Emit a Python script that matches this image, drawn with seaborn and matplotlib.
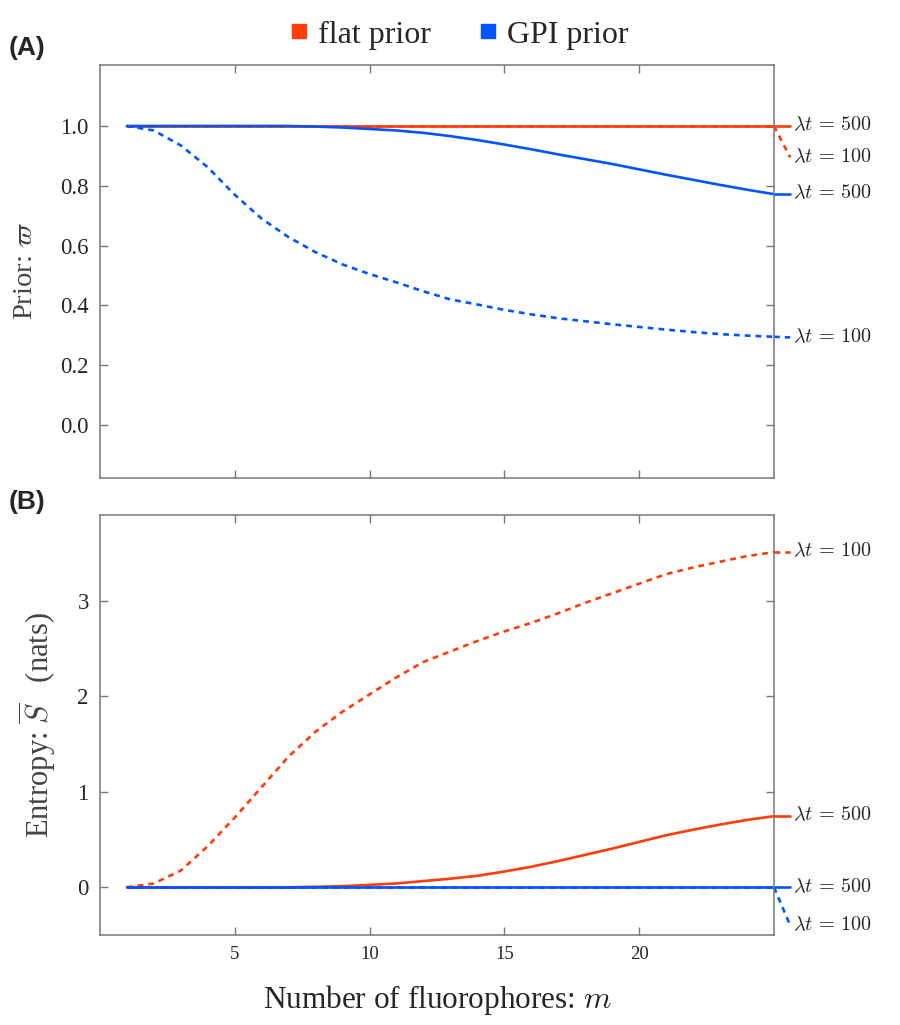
import numpy as np
import pandas as pd
import matplotlib
matplotlib.use('Agg')
import matplotlib.pyplot as plt
from matplotlib.lines import Line2D
import seaborn as sns

m = list(range(1, 26))

# panel A: prior
prior_flat_500 = [1.0] * 25
prior_flat_100 = [1.0] * 25
prior_gpi_500 = [1.0, 1.0, 1.0, 1.0, 1.0, 1.0, 1.0, 0.998, 0.995, 0.99, 0.985, 0.977, 0.966,
                 0.953, 0.938, 0.922, 0.905, 0.889, 0.873, 0.855, 0.837, 0.82, 0.803, 0.787, 0.772]
prior_gpi_100 = [1.0, 0.985, 0.935, 0.862, 0.77, 0.69, 0.628, 0.578, 0.537, 0.505, 0.477, 0.447, 0.42,
                 0.403, 0.385, 0.37, 0.357, 0.347, 0.337, 0.328, 0.319, 0.311, 0.304, 0.299, 0.295]

# panel B: entropy
ent_flat_500 = [0, 0, 0, 0, 0, 0, 0, 0.005, 0.012, 0.025, 0.04, 0.065, 0.09, 0.12, 0.165, 0.215,
                0.275, 0.34, 0.405, 0.475, 0.545, 0.603, 0.657, 0.705, 0.745]
ent_flat_100 = [0, 0.04, 0.175, 0.43, 0.73, 1.05, 1.37, 1.63, 1.84, 2.02, 2.2, 2.36, 2.47, 2.58, 2.68,
                2.77, 2.87, 2.98, 3.08, 3.18, 3.28, 3.35, 3.41, 3.47, 3.51]
ent_gpi_500 = [0.0] * 25
ent_gpi_100 = [0.0] * 25

priors = ['flat prior', 'GPI prior']
palette = {'flat prior': '#ff3c0a', 'GPI prior': '#0055ff'}

# label text y positions (offset so they don't collide)
labels_a = [('flat prior', 500, 1.0), ('flat prior', 100, 0.895),
            ('GPI prior', 500, 0.772), ('GPI prior', 100, 0.293)]
labels_b = [('flat prior', 100, 3.51), ('flat prior', 500, 0.745),
            ('GPI prior', 500, 0.0), ('GPI prior', 100, -0.40)]


def long_df(series):
    rows = []
    for (p, lt), vals in series.items():
        for mi, v in zip(m, vals):
            rows.append({'m': mi, 'value': v, 'prior': p, 'rate': lt})
    return pd.DataFrame(rows)


df_a = long_df({('flat prior', 500): prior_flat_500, ('flat prior', 100): prior_flat_100,
                ('GPI prior', 500): prior_gpi_500, ('GPI prior', 100): prior_gpi_100})
df_b = long_df({('flat prior', 500): ent_flat_500, ('flat prior', 100): ent_flat_100,
                ('GPI prior', 500): ent_gpi_500, ('GPI prior', 100): ent_gpi_100})

sns.set_style('ticks')
plt.rcParams['font.family'] = ['Liberation Serif', 'DejaVu Serif']
plt.rcParams['mathtext.fontset'] = 'cm'

fig = plt.figure(figsize=(9, 10.25), dpi=100)
ax_a = fig.add_axes([0.111, 0.5337, 0.749, 0.4029])
ax_b = fig.add_axes([0.111, 0.0878, 0.749, 0.4098])

dashes = {500: '', 100: (2.2, 1.9)}
for ax, df, labels in [(ax_a, df_a, labels_a), (ax_b, df_b, labels_b)]:
    sns.lineplot(data=df, x='m', y='value', hue='prior', style='rate', hue_order=priors,
                 style_order=[500, 100], dashes=dashes, palette=palette, linewidth=1.9,
                 legend=False, ax=ax)
    for p, lt, ylab in labels:
        sub = df[(df['prior'] == p) & (df['rate'] == lt)]
        y_end = sub['value'].iloc[-1]
        ls = '-' if lt == 500 else (0, (2.2, 1.9))
        ax.plot([25, 25.6], [y_end, ylab], color=palette[p], lw=1.9, ls=ls, clip_on=False)
        ax.text(25.7, ylab, r'$\lambda t\,=\,%d$' % lt, fontsize=14.5, va='center', ha='left')
    ax.set_xlim(0, 25)
    ax.set_xticks([5, 10, 15, 20])
    ax.tick_params(direction='in', length=6, width=1, color='#777777', top=True, right=True,
                   labelsize=16.5, pad=8)
    ax.tick_params(axis='x', labelsize=13.5)
    for s in ax.spines.values():
        s.set_color('#777777')
        s.set_linewidth(1.1)
    ax.set_xlabel('')

ax_a.set_ylim(-0.177, 1.204)
ax_a.set_yticks([0.0, 0.2, 0.4, 0.6, 0.8, 1.0])
ax_a.set_yticklabels(['0.0', '0.2', '0.4', '0.6', '0.8', '1.0'])
ax_a.tick_params(axis='x', labelbottom=False)
ax_a.set_ylabel(r'Prior: $\varpi$', fontsize=20.5, color='#444444', labelpad=16)

ax_b.set_ylim(-0.5, 3.9)
ax_b.set_yticks([0, 1, 2, 3])
ax_b.set_ylabel(r'Entropy: $\overline{S}$   (nats)', fontsize=22, color='#444444', labelpad=14)
ax_b.set_xlabel(r'Number of fluorophores: $m$', fontsize=22.5, labelpad=14)

fig.text(0.010, 0.953, '(A)', fontsize=19, fontweight='bold', family='Liberation Sans', va='center')
fig.text(0.010, 0.510, '(B)', fontsize=19, fontweight='bold', family='Liberation Sans', va='center')

handles = [Line2D([], [], marker='s', ls='', color=palette[p], markersize=10) for p in priors]
fig.legend(handles, priors, loc='center', bbox_to_anchor=(0.51, 0.966), ncol=2, frameon=False,
           fontsize=23, handletextpad=0.3, columnspacing=1.5, handlelength=0.6)

fig.savefig('out.png', dpi=100)
